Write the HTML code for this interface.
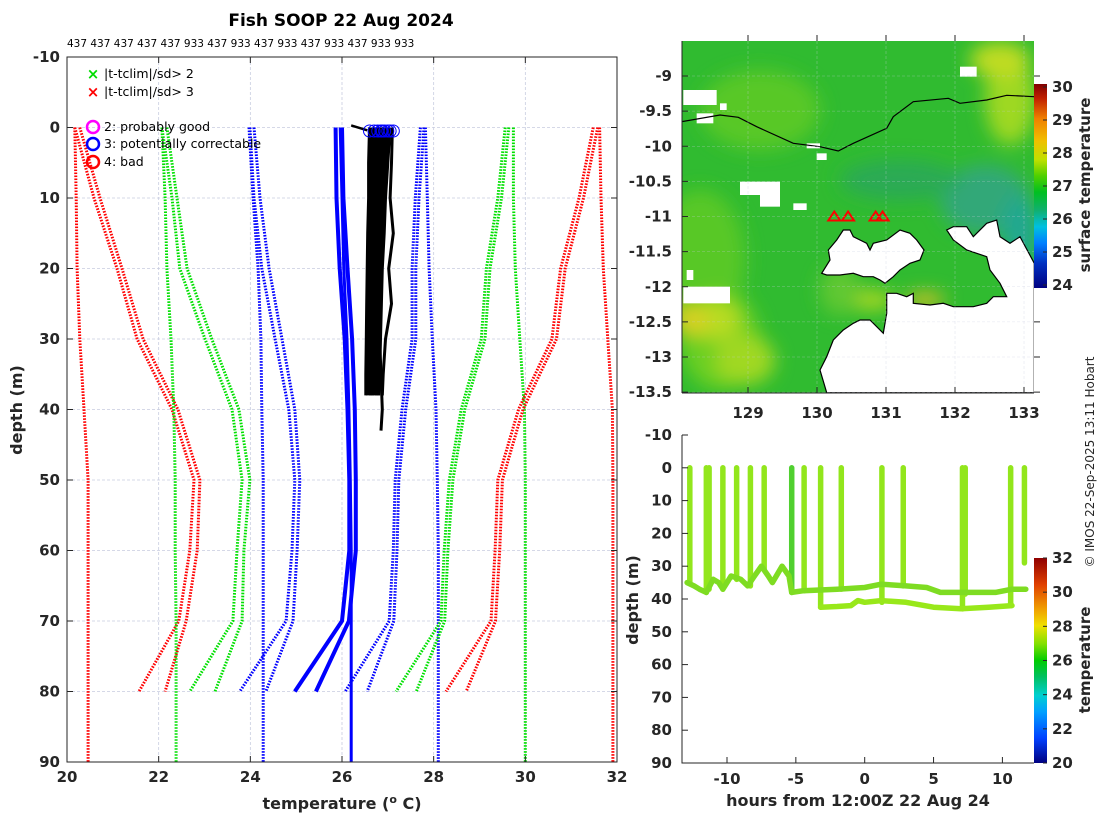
<!DOCTYPE html>
<html><head><meta charset="utf-8">
<style>
html,body{margin:0;padding:0;background:#fff;}
svg{display:block;font-family:"DejaVu Sans","Liberation Sans",sans-serif;}
.tk{font-size:15px;font-weight:bold;fill:#262626;}
</style></head>
<body>
<svg id="fig" width="1100" height="820" viewBox="0 0 1100 820" xmlns="http://www.w3.org/2000/svg">
<defs>
<linearGradient id="cbTop" x1="0" y1="1" x2="0" y2="0">
<stop offset="0" stop-color="#000080"/><stop offset="0.12" stop-color="#0030c0"/><stop offset="0.22" stop-color="#0080ff"/><stop offset="0.3" stop-color="#00c0e0"/><stop offset="0.38" stop-color="#10b070"/><stop offset="0.47" stop-color="#00c020"/><stop offset="0.55" stop-color="#50d000"/><stop offset="0.63" stop-color="#c0e000"/><stop offset="0.72" stop-color="#f0c000"/><stop offset="0.83" stop-color="#f08000"/><stop offset="0.93" stop-color="#c02000"/><stop offset="1" stop-color="#800000"/>
</linearGradient>
<linearGradient id="cbBot" x1="0" y1="1" x2="0" y2="0">
<stop offset="0" stop-color="#000080"/><stop offset="0.12" stop-color="#0040ff"/><stop offset="0.25" stop-color="#00a0ff"/><stop offset="0.33" stop-color="#00d0d0"/><stop offset="0.42" stop-color="#00c060"/><stop offset="0.5" stop-color="#00cc00"/><stop offset="0.58" stop-color="#80e000"/><stop offset="0.67" stop-color="#f0e000"/><stop offset="0.75" stop-color="#f0a000"/><stop offset="0.87" stop-color="#e04000"/><stop offset="1" stop-color="#900000"/>
</linearGradient>
<filter id="blur" x="-50%" y="-50%" width="200%" height="200%"><feGaussianBlur stdDeviation="9"/></filter>
<clipPath id="mapClip"><rect x="682" y="41" width="352" height="352"/></clipPath>
<clipPath id="leftClip"><rect x="67" y="57" width="550" height="705"/></clipPath>
</defs>
<g id="left"></g>
<g id="map"></g>
<g id="bot"></g>
</svg>
<script>
// ---------- Left profile plot data ----------
const depthsClim = [0,10,20,30,40,50,60,70,80];
const depthsDeep = [0,10,20,30,40,50,60,70,80,90];
const redL1 = [20.17,20.59,21.09,21.53,22.29,22.77,22.68,22.44,21.57];
const redL2 = [20.28,20.72,21.2,21.66,22.42,22.9,22.84,22.6,22.14];
const redLs = [20.17,20.2,20.22,20.28,20.37,20.46,20.46,20.46,20.46,20.46];
const greenL1 = [22.07,22.29,22.46,23.01,23.6,23.82,23.71,23.62,22.68];
const greenL2 = [22.18,22.4,22.62,23.16,23.75,23.99,23.86,23.82,23.23];
const greenLs = [22.07,22.14,22.18,22.27,22.33,22.36,22.36,22.38,22.38,22.38];
const blueL1 = [23.99,24.08,24.25,24.54,24.84,24.97,24.91,24.78,23.77];
const blueL2 = [24.08,24.21,24.41,24.69,24.97,25.08,25.02,24.93,24.34];
const blueLs = [23.97,24.06,24.17,24.23,24.25,24.28,24.28,24.28,24.28,24.28];
const mean1 = [25.86,25.88,25.95,26.06,26.12,26.16,26.16,26.0,24.97];
const mean2 = [26.0,26.03,26.12,26.22,26.28,26.3,26.3,26.15,25.43];
const meanS = [25.96,26.0,26.04,26.11,26.15,26.18,26.2,26.2,26.2,26.2];
const blueR1 = [27.71,27.6,27.53,27.53,27.31,27.16,27.12,27.03,26.07];
const blueR2 = [27.79,27.68,27.61,27.61,27.39,27.24,27.2,27.13,26.55];
const blueRs = [27.82,27.86,27.9,27.97,28.05,28.08,28.1,28.1,28.1,28.1];
const greenR1 = [29.56,29.4,29.15,29.04,28.6,28.34,28.23,28.16,27.18];
const greenR2 = [29.64,29.48,29.23,29.12,28.68,28.42,28.31,28.24,27.62];
const greenRs = [29.74,29.74,29.78,29.88,29.98,30.0,30.0,30.0,30.0,30.0];
const redR1 = [31.48,31.17,30.77,30.58,29.85,29.4,29.34,29.25,28.27];
const redR2 = [31.58,31.27,30.87,30.68,29.95,29.5,29.44,29.35,28.71];
const redRs = [31.62,31.65,31.7,31.8,31.9,31.91,31.91,31.91,31.91,31.91];
const obsDepths = [0,5,10,15,20,25,30,35,38];
const obs1 = [26.6,26.58,26.58,26.56,26.55,26.54,26.53,26.52,26.52];
const obs2 = [26.75,26.7,26.68,26.66,26.65,26.64,26.63,26.62,26.62];
const obs3 = [26.85,26.8,26.78,26.74,26.72,26.7,26.69,26.68,26.67];
const obs4 = [26.95,26.9,26.87,26.83,26.8,26.78,26.77,26.76,26.75];
const obs5 = [27.05,27.0,26.95,26.92,26.88,26.86,26.84,26.82,26.8];
const obs6 = [27.1,27.08,27.05,27.12,27.02,27.08,26.95,26.9,26.88];
const obsDeepDepths = [0,5,10,15,20,25,30,35,40,43];
const obs7 = [26.9,26.85,26.82,26.8,26.78,26.8,26.82,26.85,26.88,26.85];
const obsTops = [26.6,26.7,26.78,26.85,26.93,27.0,27.05,27.12,26.88];
const xTicksL = [20,22,24,26,28,30,32];
const yTicksL = [-10,0,10,20,30,40,50,60,70,80,90];
const topLabels = "437 437 437 437 437 933 437 933 437 933 437 933 437 933 933";

// ---------- Map data ----------
const lonTicks = [129,130,131,132,133];
const latTicks = [-9,-9.5,-10,-10.5,-11,-11.5,-12,-12.5,-13,-13.5];
const cbTopTicks = [24,25,26,27,28,29,30];
const shipLons = [130.25,130.45,130.85,130.95];
const shipLats = [-11.0,-11.0,-11.0,-11.0];

// ---------- Bottom plot data ----------
const castTimes = [-12.7,-11.5,-11.3,-10.3,-9.3,-8.3,-7.3,-5.3,-4.4,-3.2,-1.7,1.25,2.8,7.1,7.3,10.6,11.6];
const castBottoms = [35,38,37,37,34,36,31,38,37.5,42.5,37,41,36,43,38.5,42,29];
const trace1T = [-12.9,-12.4,-12,-11.5,-11,-10.6,-10.3,-9.7,-9,-8.5,-8,-7.5,-7,-6.7,-6,-5.5,-5.3,-4.5,-2,0,1.2,3,4.5,5.5,7,8,9.5,10.7,11.7];
const trace1D = [35,36,37,38,34,35,37,33,34,36,33,30,33,35,30,33,38,37.5,37,36.5,35.5,36,36.5,38,38,38,38,37,37];
const trace2T = [-3.2,-2,-1,-0.5,0,1.2,3,5,7,9,10.7];
const trace2D = [42.5,42.3,42,40.5,41,40.5,41,42.5,43,42.5,42];
const xTicksB = [-10,-5,0,5,10];
const yTicksB = [-10,0,10,20,30,40,50,60,70,80,90];
const cbBotTicks = [20,22,24,26,28,30,32];

const NS = "http://www.w3.org/2000/svg";
function mk(tag, attrs, parent, text){
  const e = document.createElementNS(NS, tag);
  for (const k in attrs) e.setAttribute(k, attrs[k]);
  if (text !== undefined) e.textContent = text;
  parent.appendChild(e);
  return e;
}
const xL = t => 67 + (t - 20) * 550 / 12;
const yL = d => 127.5 + d * 7.05;
const mx = lon => 748 + (lon - 129) * 69;
const my = lat => 76 + (-9 - lat) * 70.25;
const bx = h => 727 + (h + 10) * 13.77;
const by = d => 435 + (d + 10) * 3.28;

// ================= LEFT =================
const L = document.getElementById('left');
let t = mk('text',{x:341,y:26,'text-anchor':'middle','font-size':'17','font-weight':'bold',fill:'#000'},L,'Fish SOOP 22 Aug 2024');


t = mk('text',{x:67,y:47,'font-size':'10.5',fill:'#000'},L,topLabels);


xTicksL.slice(1,-1).forEach(v=>{
  const g = mk('line',{x1:xL(v),x2:xL(v),y1:57,y2:762,stroke:'#c8cce0','stroke-width':0.8,'stroke-dasharray':'3 2'},L);
  
  
});
yTicksL.slice(1,-1).forEach(v=>{
  const g = mk('line',{x1:67,x2:617,y1:yL(v),y2:yL(v),stroke:'#c8cce0','stroke-width':0.8,'stroke-dasharray':'3 2'},L);
  
  
});
const plotG = mk('g',{'clip-path':'url(#leftClip)'},L);
function prof(vals, depths, color, name, dotted, w){
  const pts = vals.map((v,i)=>xL(v).toFixed(1)+','+yL(depths[i]).toFixed(1)).join(' ');
  const p = mk('polyline',{points:pts,fill:'none',stroke:color,'stroke-width':w||3,'stroke-dasharray':dotted?'1.6 1.4':'none','stroke-linejoin':'round'},plotG);
  
  
}
prof(redL1,depthsClim,'#ff0000','clim-3sd-low-a',true);
prof(redL2,depthsClim,'#ff0000','clim-3sd-low-b',true);
prof(redLs,depthsDeep,'#ff0000','clim-3sd-low-deep',true);
prof(greenL1,depthsClim,'#00e000','clim-2sd-low-a',true);
prof(greenL2,depthsClim,'#00e000','clim-2sd-low-b',true);
prof(greenLs,depthsDeep,'#00e000','clim-2sd-low-deep',true);
prof(blueL1,depthsClim,'#0000ff','clim-1sd-low-a',true);
prof(blueL2,depthsClim,'#0000ff','clim-1sd-low-b',true);
prof(blueLs,depthsDeep,'#0000ff','clim-1sd-low-deep',true);
prof(mean1,depthsClim,'#0000ff','clim-mean-a',false,4);
prof(mean2,depthsClim,'#0000ff','clim-mean-b',false,4);
prof(meanS,depthsDeep,'#0000ff','clim-mean-deep',false,3);
prof(blueR1,depthsClim,'#0000ff','clim-1sd-high-a',true);
prof(blueR2,depthsClim,'#0000ff','clim-1sd-high-b',true);
prof(blueRs,depthsDeep,'#0000ff','clim-1sd-high-deep',true);
prof(greenR1,depthsClim,'#00e000','clim-2sd-high-a',true);
prof(greenR2,depthsClim,'#00e000','clim-2sd-high-b',true);
prof(greenRs,depthsDeep,'#00e000','clim-2sd-high-deep',true);
prof(redR1,depthsClim,'#ff0000','clim-3sd-high-a',true);
prof(redR2,depthsClim,'#ff0000','clim-3sd-high-b',true);
prof(redRs,depthsDeep,'#ff0000','clim-3sd-high-deep',true);
[obs1,obs2,obs3,obs4,obs5,obs6].forEach((o,i)=>prof(o,obsDepths,'#000','observed-profile-'+(i+1),false,3));
prof(obs7,obsDeepDepths,'#000','observed-profile-7',false,3);
{
  const pts = obs1.map((v,i)=>xL(v)+','+yL(obsDepths[i])).concat(obs5.slice().reverse().map((v,i)=>xL(v)+','+yL(obsDepths[obsDepths.length-1-i])));
  const p = mk('polygon',{points:pts.join(' '),fill:'#000'},plotG);
  
  
}
{
  const p = mk('line',{x1:xL(26.2),y1:yL(-0.3),x2:xL(26.55),y2:yL(0.4),stroke:'#000','stroke-width':2.5},plotG);
  
  
}
obsTops.forEach(v=>{
  const c = mk('circle',{cx:xL(v),cy:yL(0.5),r:6,fill:'none',stroke:'#0000ff','stroke-width':1},plotG);
  
  
});
let ax = mk('rect',{x:67,y:57,width:550,height:705,fill:'none',stroke:'#262626','stroke-width':1},L);


xTicksL.forEach(v=>{
  mk('line',{x1:xL(v),x2:xL(v),y1:762,y2:756,stroke:'#262626'},L);
  mk('line',{x1:xL(v),x2:xL(v),y1:57,y2:63,stroke:'#262626'},L);
  const tx = mk('text',{x:xL(v),y:782,'text-anchor':'middle',class:'tk'},L,String(v));
  
  
});
yTicksL.forEach(v=>{
  mk('line',{x1:67,x2:73,y1:yL(v),y2:yL(v),stroke:'#262626'},L);
  mk('line',{x1:617,x2:611,y1:yL(v),y2:yL(v),stroke:'#262626'},L);
  const tx = mk('text',{x:60,y:yL(v)+5,'text-anchor':'end',class:'tk'},L,String(v));
  
  
});
t = mk('text',{x:342,y:809,'text-anchor':'middle','font-size':'16','font-weight':'bold',fill:'#262626'},L);
t.innerHTML = 'temperature (<tspan dy="-6" font-size="11">o</tspan><tspan dy="6"> C)</tspan>';


t = mk('text',{x:0,y:0,'text-anchor':'middle','font-size':'16','font-weight':'bold',fill:'#262626',transform:'translate(22,410) rotate(-90)'},L,'depth (m)');


const leg = mk('g',{},L);


[['#00dd00','|t-tclim|/sd> 2',74],['#ff0000','|t-tclim|/sd> 3',92]].forEach(([c,s,y])=>{
  const e = mk('text',{x:93,y:y+5,'text-anchor':'middle','font-size':'15','font-weight':'bold',fill:c},leg,'×');
  
  
  const tt = mk('text',{x:104,y:y+4,'font-size':'12.5',fill:'#000'},leg,s);
  
  
});
[['#ff00ff','2: probably good',127],['#0000ff','3: potentially correctable',144],['#ff0000','4: bad',162]].forEach(([c,s,y])=>{
  const e = mk('circle',{cx:93,cy:y,r:6,fill:'none',stroke:c,'stroke-width':2.5},leg);
  
  
  const tt = mk('text',{x:104,y:y+4,'font-size':'12.5',fill:'#000'},leg,s);
  
  
});

// ================= MAP =================
const M = document.getElementById('map');
const mg = mk('g',{'clip-path':'url(#mapClip)'},M);
let r = mk('rect',{x:682,y:41,width:352,height:352,fill:'#30bb30'},mg);


const patches = mk('g',{filter:'url(#blur)'},mg);
[['#58c828',700,260,45,70],['#6ccf22',720,340,40,50],['#b8dc20',715,320,25,20],['#d8d020',690,320,18,15],['#a0d820',745,360,30,25],['#58c828',760,110,60,40],['#9ed820',1010,100,25,45],['#c0dc20',1000,60,30,18],['#30a878',985,200,45,35],['#20a890',1020,230,18,35],['#a8d820',870,300,25,10],['#e0c020',925,300,20,7],['#60c830',840,290,20,25],['#2aaa55',900,180,60,20]].forEach(([c,x,y,rx,ry])=>{
  mk('ellipse',{cx:x,cy:y,rx:rx,ry:ry,fill:c},patches);
});
const landPts = [[620,1088],[600,1020],[620,980],[640,930],[670,900],[700,880],[720,870],[750,870],[790,910],[800,850],[800,790],[830,790],[860,800],[880,790],[880,820],[930,825],[970,820],[1000,830],[1060,830],[1100,820],[1120,800],[1160,800],[1140,760],[1110,720],[1100,680],[1070,670],[1040,660],[1000,630],[980,600],[1000,590],[1040,590],[1060,620],[1100,580],[1130,570],[1140,620],[1170,640],[1200,620],[1243,700],[1243,1088]];
const toM = ([a,b]) => (620+a/3).toFixed(1)+','+(30+b/3).toFixed(1);
r = mk('polygon',{points:landPts.map(toM).join(' '),fill:'#fff',stroke:'#000','stroke-width':1.2},mg);


const islPts = [[605,730],[630,690],[625,660],[650,630],[670,600],[690,600],[700,620],[720,630],[740,640],[750,660],[760,640],[800,630],[840,600],[870,610],[890,630],[912,660],[900,690],[870,700],[840,720],[820,740],[795,760],[780,750],[760,740],[730,740],[700,730],[660,735],[620,735]];
r = mk('polygon',{points:islPts.map(toM).join(' '),fill:'#fff',stroke:'#000','stroke-width':1.2},mg);


[[190,770,140,50],[190,180,100,45],[360,455,120,40],[520,520,40,20],[1020,110,50,30],[200,720,20,30],[560,340,40,15],[300,220,20,20],[420,480,60,50],[230,250,50,30],[590,370,30,20]].forEach(([a,b,w,h])=>{
  mk('rect',{x:620+a/3,y:30+b/3,width:w/3,height:h/3,fill:'#fff'},mg);
});
const coast = [[185,275],[300,255],[355,262],[410,290],[520,340],[600,350],[655,363],[700,340],[800,295],[820,260],[880,215],[985,205],[1020,220],[1100,210],[1160,196],[1243,200]];
r = mk('polyline',{points:coast.map(toM).join(' '),fill:'none',stroke:'#000','stroke-width':1.2},mg);


shipLons.forEach((lon,i)=>{
  const x = mx(lon), y = my(shipLats[i]);
  const p = mk('polygon',{points:`${x-6},${y+4} ${x},${y-5} ${x+6},${y+4}`,fill:'none',stroke:'#ff0000','stroke-width':2},mg);
  
  
});
lonTicks.forEach(v=>{ mk('line',{x1:mx(v),x2:mx(v),y1:41,y2:393,stroke:'#c8cce0','stroke-width':0.6,'stroke-dasharray':'3 2',opacity:0.5},mg); });
latTicks.forEach(v=>{ mk('line',{x1:682,x2:1034,y1:my(v),y2:my(v),stroke:'#c8cce0','stroke-width':0.6,'stroke-dasharray':'3 2',opacity:0.5},mg); });
ax = mk('line',{x1:682,y1:393,x2:1034,y2:393,stroke:'#262626'},M);


mk('line',{x1:682,y1:41,x2:682,y2:393,stroke:'#262626'},M);
lonTicks.forEach(v=>{
  mk('line',{x1:mx(v),x2:mx(v),y1:393,y2:387,stroke:'#262626'},M);
  mk('line',{x1:mx(v),x2:mx(v),y1:41,y2:35,stroke:'#262626'},M);
  const tx = mk('text',{x:mx(v),y:418,'text-anchor':'middle',class:'tk'},M,String(v));
  
  
});
latTicks.forEach(v=>{
  mk('line',{x1:682,x2:688,y1:my(v),y2:my(v),stroke:'#262626'},M);
  mk('line',{x1:1034,x2:1040,y1:my(v),y2:my(v),stroke:'#262626'},M);
  const tx = mk('text',{x:672,y:my(v)+5,'text-anchor':'end',class:'tk'},M,String(v));
  
  
});
const cy1 = v => 285 - (v-24)*33;
r = mk('rect',{x:1034,y:cy1(30)-3,width:13,height:cy1(24)-cy1(30)+6,fill:'url(#cbTop)'},M);


cbTopTicks.forEach(v=>{
  mk('line',{x1:1047,x2:1043,y1:cy1(v),y2:cy1(v),stroke:'#262626'},M);
  const tx = mk('text',{x:1052,y:cy1(v)+5,class:'tk'},M,String(v));
  
  
});
t = mk('text',{x:0,y:0,'text-anchor':'middle','font-size':'15','font-weight':'bold',fill:'#262626',transform:'translate(1090,185) rotate(-90)'},M,'surface temperature');


t = mk('text',{x:0,y:0,'text-anchor':'middle','font-size':'12',fill:'#262626',transform:'translate(1094,462) rotate(-90)'},M,'© IMOS 22-Sep-2025 13:11 Hobart');



// ================= BOTTOM =================
const B = document.getElementById('bot');
const bg = mk('g',{},B);
castTimes.forEach((h,i)=>{
  const l = mk('line',{x1:bx(h),x2:bx(h),y1:by(0),y2:by(castBottoms[i]),stroke:(i===7?'#50d030':'#92e61c'),'stroke-width':5.5,'stroke-linecap':'round'},bg);
  
  
});
[[trace1T,trace1D,'#7edc22','tow-depth-trace-upper'],[trace2T,trace2D,'#98e81a','tow-depth-trace-lower']].forEach(([tt,dd,c,n])=>{
  const p = mk('polyline',{points:tt.map((h,i)=>bx(h).toFixed(1)+','+by(dd[i]).toFixed(1)).join(' '),fill:'none',stroke:c,'stroke-width':5.5,'stroke-linejoin':'round','stroke-linecap':'round'},bg);
  
  
});
ax = mk('polyline',{points:'682,435 682,763 1034,763',fill:'none',stroke:'#262626'},B);


xTicksB.forEach(v=>{
  mk('line',{x1:bx(v),x2:bx(v),y1:763,y2:757,stroke:'#262626'},B);
  const tx = mk('text',{x:bx(v),y:784,'text-anchor':'middle',class:'tk'},B,String(v));
  
  
});
yTicksB.forEach(v=>{
  mk('line',{x1:682,x2:688,y1:by(v),y2:by(v),stroke:'#262626'},B);
  const tx = mk('text',{x:672,y:by(v)+5,'text-anchor':'end',class:'tk'},B,String(v));
  
  
});
t = mk('text',{x:858,y:806,'text-anchor':'middle','font-size':'16','font-weight':'bold',fill:'#262626'},B,'hours from 12:00Z 22 Aug 24');


t = mk('text',{x:0,y:0,'text-anchor':'middle','font-size':'16','font-weight':'bold',fill:'#262626',transform:'translate(638,600) rotate(-90)'},B,'depth (m)');


const cy2 = v => 763 - (v-20)*(763-558)/12;
r = mk('rect',{x:1034,y:cy2(32),width:13,height:cy2(20)-cy2(32),fill:'url(#cbBot)'},B);


cbBotTicks.forEach(v=>{
  mk('line',{x1:1047,x2:1043,y1:cy2(v),y2:cy2(v),stroke:'#262626'},B);
  const tx = mk('text',{x:1052,y:cy2(v)+5,class:'tk'},B,String(v));
  
  
});
t = mk('text',{x:0,y:0,'text-anchor':'middle','font-size':'15','font-weight':'bold',fill:'#262626',transform:'translate(1090,660) rotate(-90)'},B,'temperature');


</script>
</body></html>
